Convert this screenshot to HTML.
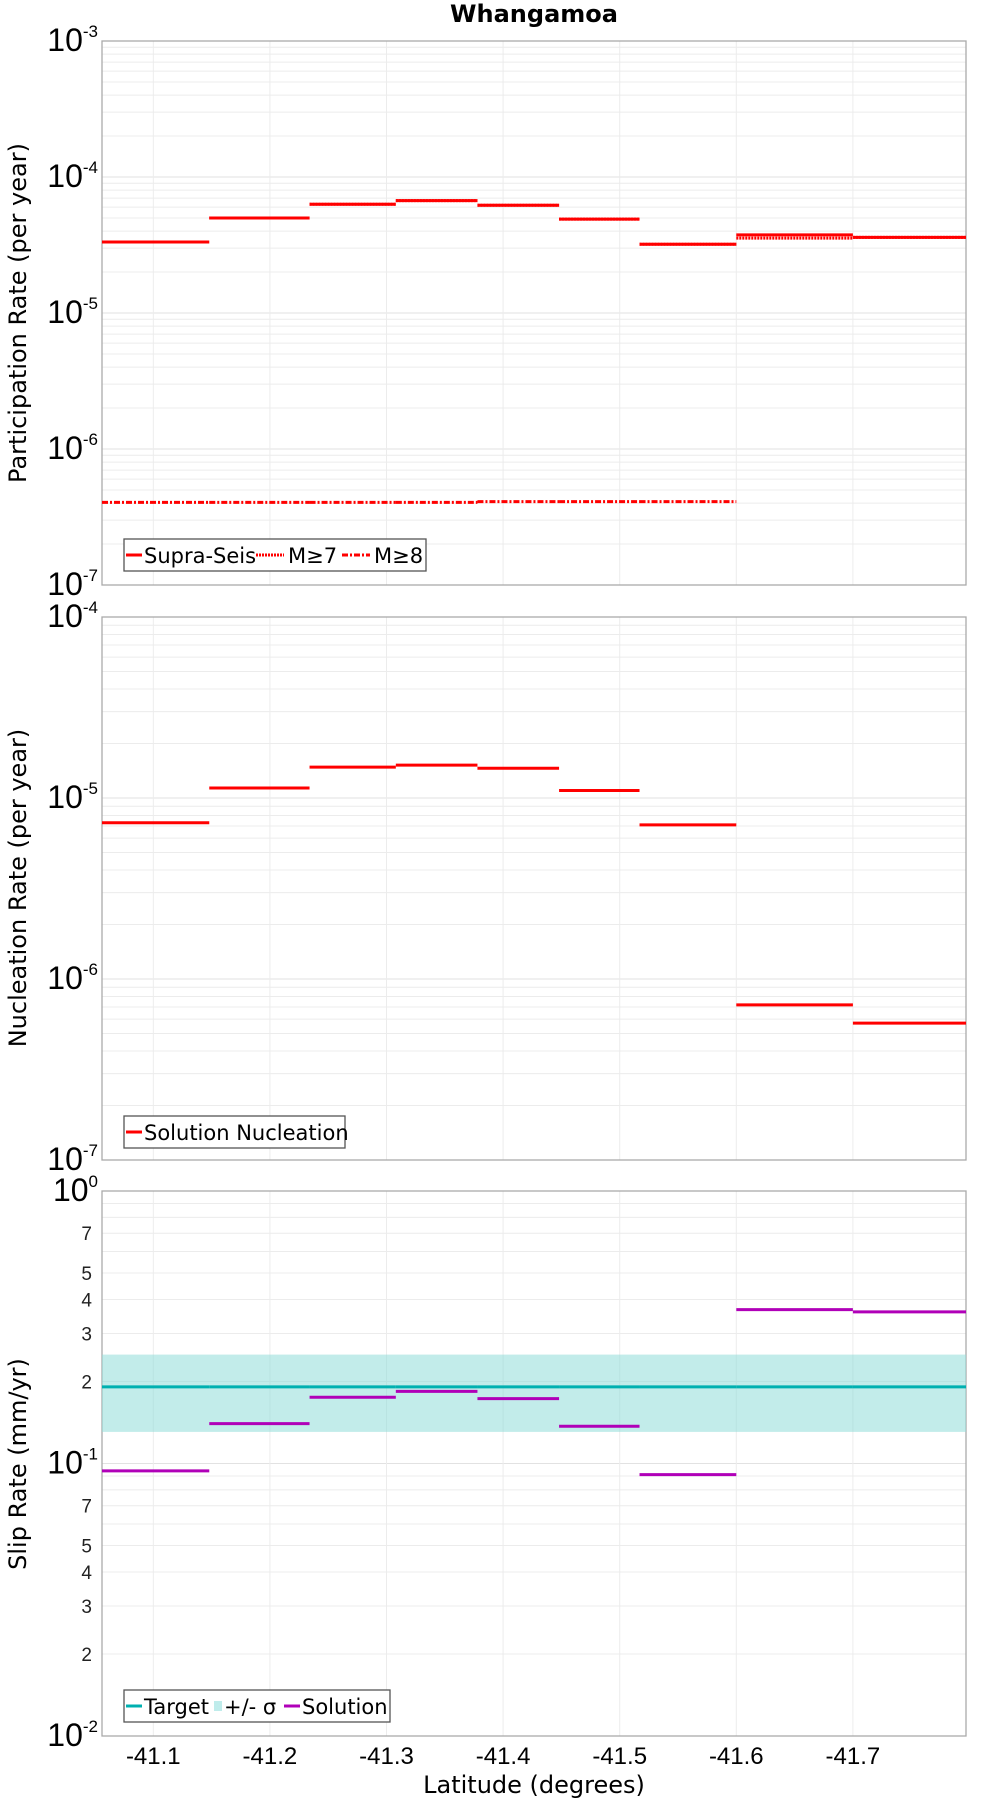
<!DOCTYPE html>
<html><head><meta charset="utf-8"><style>
body{margin:0;background:#fff;}
svg text{font-family:"DejaVu Sans","Liberation Sans",sans-serif;}
svg text.nar{font-family:"Liberation Sans Narrow","Liberation Sans",sans-serif;}
</style></head><body>
<svg id="chart" width="1000" height="1800" xmlns="http://www.w3.org/2000/svg"></svg>
<script>
const bounds = [-41.056, -41.148, -41.234, -41.308, -41.378, -41.448, -41.517, -41.600, -41.700, -41.797];
const xTicks = [-41.1, -41.2, -41.3, -41.4, -41.5, -41.6, -41.7];
const supraSeis = [3.33e-5, 5.0e-5, 6.3e-5, 6.7e-5, 6.2e-5, 4.9e-5, 3.2e-5, 3.75e-5, 3.6e-5];
const m7 = [3.33e-5, 5.0e-5, 6.3e-5, 6.7e-5, 6.2e-5, 4.9e-5, 3.2e-5, 3.55e-5, 3.6e-5];
const m8 = [4.05e-7, 4.05e-7, 4.05e-7, 4.05e-7, 4.1e-7, 4.1e-7, 4.1e-7, null, null];
const nucleation = [7.3e-6, 1.135e-5, 1.48e-5, 1.52e-5, 1.46e-5, 1.1e-5, 7.1e-6, 7.2e-7, 5.7e-7];
const targetSlip = [0.191, 0.191, 0.191, 0.191, 0.191, 0.191, 0.191, 0.191, 0.191];
const sigmaHigh = [0.251];
const sigmaLow = [0.1306];
const solutionSlip = [0.094, 0.140, 0.175, 0.184, 0.173, 0.137, 0.091, 0.367, 0.36];

const NS = "http://www.w3.org/2000/svg";
const svg = document.getElementById('chart');
const L = 102, R = 966;
function xs(lat){ return L + (lat - bounds[0]) / (bounds[bounds.length-1] - bounds[0]) * (R - L); }
function mk(tag, attrs, parent){ const e = document.createElementNS(NS, tag); for (const k in attrs) e.setAttribute(k, attrs[k]); (parent||svg).appendChild(e); return e; }

function panel(top, bot, dmin, dmax, name, minorLabels){
  const g = mk('g', {});
  
  
  const ys = v => bot - (Math.log10(v) - dmin) / (dmax - dmin) * (bot - top);
  for (let d = dmin; d < dmax; d++) {
    for (let m = 2; m <= 9; m++) {
      const y = ys(m * Math.pow(10, d));
      const gl = mk('line', {x1:L, x2:R, y1:y, y2:y, stroke:'#ececec', 'stroke-width':1}, g);
      
      
      if (minorLabels && [2,3,4,5,7].includes(m)) {
        const t = mk('text', {x:L-10, y:y+7, 'text-anchor':'end', 'font-size':19, fill:'#222', class:'nar'}, g);
        t.textContent = m;
        
        
      }
    }
  }
  for (let d = dmin; d <= dmax; d++) {
    const y = ys(Math.pow(10, d));
    const gl = mk('line', {x1:L, x2:R, y1:y, y2:y, stroke:'#e2e2e2', 'stroke-width':1}, g);
    
    
    const t = mk('text', {x:L-4, y:y+10, 'text-anchor':'end', 'font-size':32, fill:'#000', class:'nar'}, g);
    
    
    t.appendChild(document.createTextNode('10'));
    const s = mk('tspan', {dy:-14, 'font-size':17}, t);
    s.textContent = d;
  }
  xTicks.forEach(v => {
    const x = xs(v);
    const gl = mk('line', {x1:x, x2:x, y1:top, y2:bot, stroke:'#ececec', 'stroke-width':1}, g);
    
    
  });
  const fr = mk('rect', {x:L, y:top, width:R-L, height:bot-top, fill:'none', stroke:'#aaa', 'stroke-width':1.3}, g);
  
  
  return {g, ys};
}

function steps(p, vals, color, dash, w, name){
  vals.forEach((v, i) => {
    if (v == null) return;
    const y = p.ys(v);
    const l = mk('line', {x1:xs(bounds[i]), x2:xs(bounds[i+1]), y1:y, y2:y, stroke:color, 'stroke-width':w}, p.g);
    if (dash) l.setAttribute('stroke-dasharray', dash);
    
    
  });
}

function legend(x, y, w, items, name){
  const g = mk('g', {});
  
  
  mk('rect', {x:x, y:y, width:w, height:32, fill:'#fff', stroke:'#555', 'stroke-width':1.3}, g);
  let cx = x + 2;
  items.forEach(it => {
    let sw;
    if (it.box) { sw = mk('rect', {x:cx, y:y+11, width:8, height:10, fill:it.color}, g); cx += 10; }
    else { sw = mk('line', {x1:cx, x2:cx+(it.sw?it.sw-4:16), y1:y+16, y2:y+16, stroke:it.color, 'stroke-width':3}, g); if (it.dash) sw.setAttribute('stroke-dasharray', it.dash); cx += it.sw || 18; }
    
    
    const t = mk('text', {x:cx, y:y+24, 'font-size':21, fill:'#000'}, g);
    t.textContent = it.label;
    
    
    cx += it.tw;
  });
}

function ytitle(text, cy, name){
  const t = mk('text', {x:0, y:0, 'font-size':24, 'text-anchor':'middle', fill:'#000', transform:`translate(26,${cy}) rotate(-90)`});
  t.textContent = text;
  
  
}

const title = mk('text', {x:534, y:22, 'text-anchor':'middle', 'font-size':24, 'font-weight':'bold'});
title.textContent = 'Whangamoa';



const p1 = panel(41, 585, -7, -3, 'participation-panel', false);
steps(p1, m8, '#f00', '6,2,2,2', 3, 'm8-step');
steps(p1, m7, '#f00', '2,1', 3, 'm7-step');
steps(p1, supraSeis, '#f00', null, 3, 'supra-seis-step');
legend(124, 539, 302, [
  {label:'Supra-Seis', color:'#f00', tw:112},
  {label:'M≥7', color:'#f00', dash:'2,1', sw:32, tw:54},
  {label:'M≥8', color:'#f00', dash:'6,2,2,2', sw:32, tw:52}], 'participation-legend');
ytitle('Participation Rate (per year)', 313, 'participation-y-title');

const p2 = panel(617, 1160, -7, -4, 'nucleation-panel', false);
steps(p2, nucleation, '#f00', null, 3, 'nucleation-step');
legend(124, 1116, 221, [{label:'Solution Nucleation', color:'#f00', tw:200}], 'nucleation-legend');
ytitle('Nucleation Rate (per year)', 888, 'nucleation-y-title');

const p3 = panel(1191, 1736, -2, 0, 'slip-panel', true);
const band = mk('rect', {x:L, y:p3.ys(sigmaHigh[0]), width:R-L, height:p3.ys(sigmaLow[0]) - p3.ys(sigmaHigh[0]), fill:'#8fdcd9', 'fill-opacity':0.55}, p3.g);


steps(p3, targetSlip, '#00b0b0', null, 3, 'target-step');
steps(p3, solutionSlip, '#b000b8', null, 3, 'solution-step');
legend(124, 1690, 266, [
  {label:'Target', color:'#00b0b0', tw:70},
  {label:'+/- σ', color:'#bfeceb', box:true, tw:60},
  {label:'Solution', color:'#b000b8', tw:86}], 'slip-legend');
ytitle('Slip Rate (mm/yr)', 1464, 'slip-y-title');

xTicks.forEach(v => {
  const t = mk('text', {x:xs(v), y:1764, 'text-anchor':'middle', 'font-size':24, class:'nar'});
  t.textContent = v.toFixed(1);
  
  
});
const xt = mk('text', {x:534, y:1793, 'text-anchor':'middle', 'font-size':24});
xt.textContent = 'Latitude (degrees)';


</script>
</body></html>
